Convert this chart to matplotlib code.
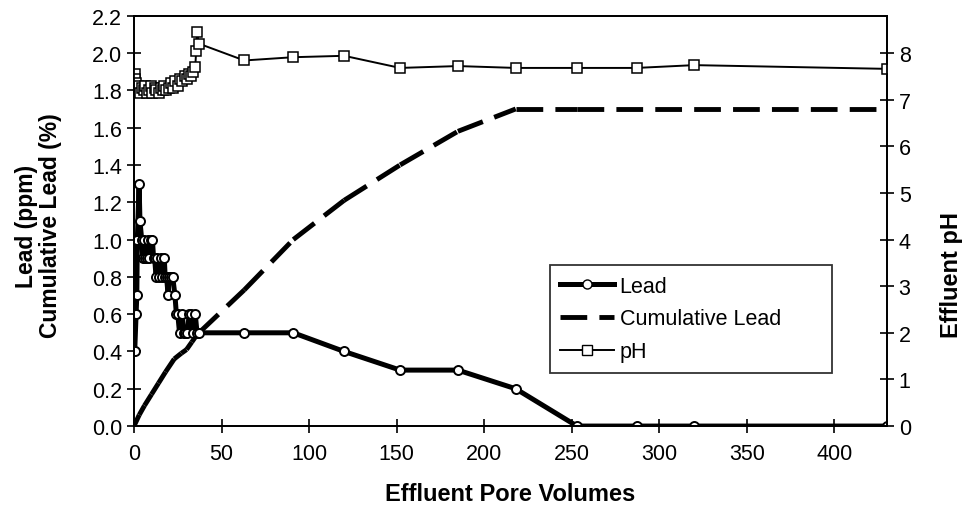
import matplotlib.pyplot as plt
from matplotlib.lines import Line2D

plt.rcParams['font.family'] = ['Liberation Sans', 'DejaVu Sans']

# Lead concentration (ppm) vs effluent pore volumes
lead_x = [0.4, 1.2, 1.6, 1.9, 2.9, 3.4, 4.4, 5.0, 5.8, 6.5, 7.2, 8.0, 8.8, 9.6,
          10.5, 11.2, 11.8, 12.6, 13.4, 14.2, 15.2, 16.2, 17.3, 17.8, 18.6, 19.5,
          20.0, 21.0, 22.1, 23.4, 24.2, 25.0, 26.0, 27.6, 28.4, 29.4, 30.5, 31.5,
          32.6, 33.8, 35.0, 36.0, 37.1, 63, 91, 120, 152, 185, 218, 253, 287, 320, 430]
lead_y = [0.4, 0.6, 0.7, 1.0, 1.3, 1.1, 1.0, 0.9, 1.0, 0.9, 0.9, 1.0, 0.9, 1.0,
          1.0, 0.9, 0.9, 0.8, 0.9, 0.8, 0.9, 0.8, 0.9, 0.8, 0.8, 0.7,
          0.8, 0.8, 0.8, 0.7, 0.6, 0.6, 0.5, 0.6, 0.5, 0.5, 0.5, 0.6,
          0.6, 0.5, 0.6, 0.5, 0.5, 0.5, 0.5, 0.4, 0.3, 0.3, 0.2, 0.0, 0.0, 0.0, 0.0]

# cumulative lead (%)
cum_x = [0, 3, 6, 10, 14, 18, 23, 27, 30, 33, 36, 37.1, 63, 91, 120, 152, 185, 218, 253, 430]
cum_y = [0, 0.06, 0.11, 0.17, 0.23, 0.29, 0.36, 0.39, 0.41, 0.45, 0.49, 0.5, 0.73,
         1.0, 1.21, 1.4, 1.58, 1.7, 1.7, 1.7]

# effluent pH
ph_x = [0.4, 0.8, 1.2, 1.7, 2.2, 2.9, 3.4, 4.4, 5.5, 6.3, 7.2, 8.8, 9.6, 10.5,
        11.8, 12.6, 14.0, 15.2, 16.3, 17.3, 18.5, 20.0, 21.0, 22.1, 23.4, 25.0,
        26.3, 27.6, 29.0, 30.5, 31.5, 32.6, 33.8, 35.0, 35.5, 36.0, 37.1,
        63, 91, 120, 152, 185, 218, 253, 287, 320, 430]
ph_y = [7.55, 7.45, 7.35, 7.25, 7.2, 7.3, 7.15, 7.25, 7.2, 7.3, 7.15, 7.2, 7.3, 7.15,
        7.25, 7.2, 7.15, 7.25, 7.2, 7.3, 7.2, 7.25, 7.35, 7.25, 7.4, 7.3,
        7.45, 7.4, 7.5, 7.45, 7.55, 7.5, 7.6, 7.7, 8.05, 8.45, 8.2,
        7.84, 7.91, 7.94, 7.68, 7.72, 7.68, 7.68, 7.68, 7.74, 7.66]

fig = plt.figure(figsize=(9.64, 5.06), dpi=100)
ax = fig.add_axes([0.139, 0.156, 0.781, 0.811])
ax2 = ax.twinx()

# excel style: dash pattern restarts at every point
for i in range(len(cum_x) - 1):
    ax.plot(cum_x[i:i + 2], cum_y[i:i + 2], color='black', lw=3.5,
            dashes=(5.5, 2.5), solid_capstyle='butt', dash_capstyle='butt')

ax.plot(lead_x, lead_y, color='black', lw=3.6, marker='o', markersize=6.5,
        markerfacecolor='white', markeredgecolor='black', markeredgewidth=1.4)

ax2.plot(ph_x, ph_y, color='black', lw=1.4, marker='s', markersize=7,
         markerfacecolor='white', markeredgecolor='black', markeredgewidth=1.1)

ax.set_xlim(0, 430)
ax.set_ylim(0, 2.2)
ax2.set_ylim(0, 8.8)
ax.set_xticks(range(0, 401, 50))
ax.set_yticks([i * 0.2 for i in range(12)])
ax.set_yticklabels(['%.1f' % (i * 0.2) for i in range(12)])
ax2.set_yticks(range(0, 9))

for a in (ax, ax2):
    a.tick_params(direction='inout', length=10, width=1.2, labelsize=15.5)
    for s in a.spines.values():
        s.set_linewidth(1.3)
ax.tick_params(axis='x', pad=7)

ax.set_xlabel('Effluent Pore Volumes', fontsize=17, fontweight='bold', va='top')
ax.xaxis.set_label_coords(0.5, -0.137)
ax.set_ylabel('Lead (ppm)\nCumulative Lead (%)', fontsize=16.5, fontweight='bold',
              linespacing=1.02)
ax.yaxis.set_label_coords(-0.096, 0.49)
ax2.set_ylabel('Effluent pH', fontsize=17, fontweight='bold', rotation=90)
ax2.yaxis.set_label_coords(1.071, 0.37)

handles = [
    Line2D([], [], color='black', lw=3.6, marker='o', markersize=6.5,
           markerfacecolor='white', markeredgecolor='black'),
    Line2D([], [], color='black', lw=3.5, dashes=(5.5, 2.5)),
    Line2D([], [], color='black', lw=1.4, marker='s', markersize=7,
           markerfacecolor='white', markeredgecolor='black'),
]
leg = ax2.legend(handles, ['Lead', 'Cumulative Lead', 'pH'], loc='upper left',
                 bbox_to_anchor=(0.552, 0.393, 0.3745, 0.0), mode='expand',
                 borderaxespad=0, fontsize=15.5, frameon=True, fancybox=False,
                 edgecolor='black', handlelength=2.5, borderpad=0.5,
                 labelspacing=0.55, handletextpad=0.25)
leg.get_frame().set_linewidth(1.3)

fig.savefig('out.png', dpi=100)
